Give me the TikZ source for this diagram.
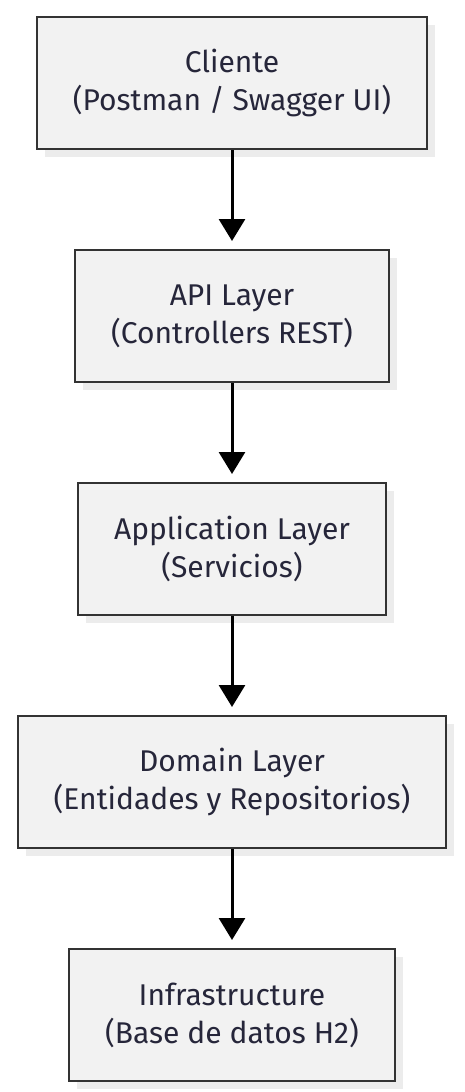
\documentclass[tikz,border=0pt]{standalone}
\usepackage{fontspec}
\setmainfont{Fira Sans}
\usetikzlibrary{arrows.meta,positioning,shadows}
\definecolor{layerfill}{RGB}{242,242,242}
\definecolor{layerline}{RGB}{51,51,51}
\definecolor{layershadow}{RGB}{236,236,236}
\definecolor{layertext}{RGB}{38,38,58}
\tikzset{
  layerbox/.style={draw=layerline,line width=2pt,fill=layerfill,align=center,
    minimum height=132pt,inner xsep=36pt,text=layertext,
    font=\fontsize{30}{38}\selectfont,
    drop shadow={shadow xshift=8pt,shadow yshift=-8pt,fill=layershadow,
      opacity=1}},
  flow/.style={-{Triangle[length=22pt,width=26pt]},line width=3pt,
    shorten >=8pt}
}

\begin{document}
\begin{tikzpicture}[node distance=99pt]
  \useasboundingbox (0,0) rectangle (465pt,-1092pt);
  \node[layerbox] (client) at (232pt,-83pt)
    {Cliente\\(Postman / Swagger UI)};
  \node[layerbox,below=of client] (api)
    {API Layer\\(Controllers REST)};
  \node[layerbox,below=of api] (app)
    {Application Layer\\(Servicios)};
  \node[layerbox,below=of app] (domain)
    {Domain Layer\\(Entidades y Repositorios)};
  \node[layerbox,below=of domain] (infra)
    {Infrastructure\\(Base de datos H2)};
  \draw[flow] (client) -- (api);
  \draw[flow] (api) -- (app);
  \draw[flow] (app) -- (domain);
  \draw[flow] (domain) -- (infra);
\end{tikzpicture}
\end{document}
